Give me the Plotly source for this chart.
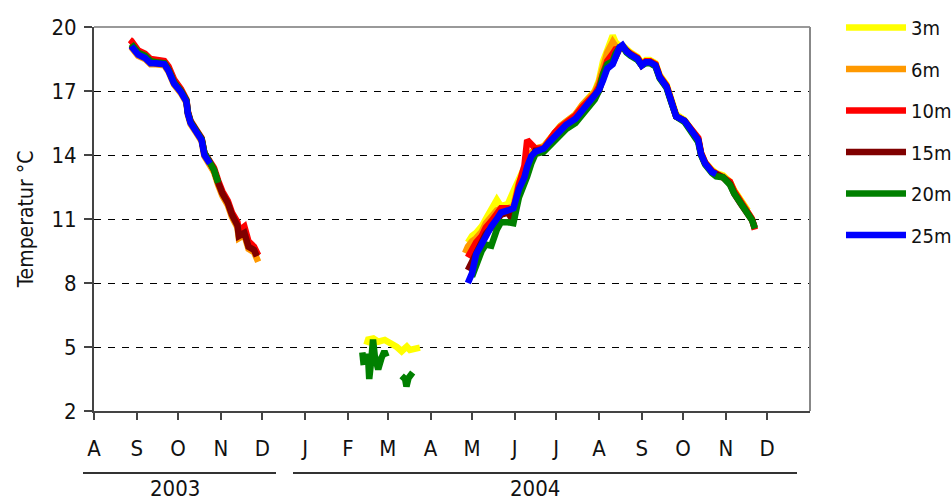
import plotly.graph_objects as go

# ---------------- data ----------------
depths = ["3m", "6m", "10m", "15m", "20m", "25m"]
colors = ["#FFFF00", "#FF9900", "#FF0000", "#800000", "#008000", "#0000FF"]

tick_dates = ["2003-08-01", "2003-09-01", "2003-10-01", "2003-11-01", "2003-12-01",
              "2004-01-01", "2004-02-01", "2004-03-01", "2004-04-01", "2004-05-01",
              "2004-06-01", "2004-07-01", "2004-08-01", "2004-09-01", "2004-10-01",
              "2004-11-01", "2004-12-01"]
tick_labels = ["A", "S", "O", "N", "D", "J", "F", "M", "A", "M", "J", "J", "A", "S", "O", "N", "D"]
year_labels = ["2003", "2004"]
y_ticks = [2, 5, 8, 11, 14, 17, 20]

# autumn 2003
dates_2003 = ["2003-08-27", "2003-08-28", "2003-09-02", "2003-09-07", "2003-09-11", "2003-09-15",
              "2003-09-21", "2003-09-24", "2003-09-28", "2003-10-03", "2003-10-07", "2003-10-08",
              "2003-10-10", "2003-10-14", "2003-10-18", "2003-10-20", "2003-10-24", "2003-10-27",
              "2003-10-30", "2003-11-02", "2003-11-06", "2003-11-09", "2003-11-13", "2003-11-14",
              "2003-11-18", "2003-11-19", "2003-11-21", "2003-11-25", "2003-11-27", "2003-11-28"]
t6_2003 = [None, 19.05, 18.65, 18.5, 18.25, 18.25, 18.2, 17.9, 17.3, 16.9, 16.45, 15.9, 15.45, 15.05,
           14.65, 13.95, 13.55, 13.2, 12.6, 12.1, 11.65, 11.1, 10.6, 10.1, 10.25, 10.0, 9.6, 9.45, 9.15, 9.0]
t10_2003 = [19.4, 19.35, 18.9, 18.75, 18.5, 18.45, 18.4, 18.15, 17.55, 17.1, 16.6, 16.05, 15.6, 15.2,
            14.8, 14.1, 13.75, 13.4, 12.8, 12.3, 11.85, 11.3, 10.85, 10.45, 10.65, 10.3, 9.95, 9.7, 9.45, 9.3]
t15_2003 = [None, 19.15, 18.75, 18.6, 18.35, 18.3, 18.28, 18.0, 17.4, 17.0, 16.55, 16.0, 15.55, 15.15,
            14.75, 14.1, 13.65, 13.3, 12.7, 12.2, 11.75, 11.2, 10.7, 10.2, 10.35, 10.1, 9.7, 9.55, 9.25, None]
t20_2003 = [None, 19.2, 18.8, 18.65, 18.4, 18.35, 18.3, 18.0, 17.4, 17.0, 16.55, 16.0, 15.55, 15.15,
            14.75, 14.1, 13.7, 13.3, 12.7, None, None, None, None, None, None, None, None, None, None, None]
t25_2003 = [None, 19.1, 18.7, 18.55, 18.3, 18.3, 18.25, 17.95, 17.35, 16.95, 16.5, 15.95, 15.5, 15.1,
            14.7, 14.0, 13.6, None, None, None, None, None, None, None, None, None, None, None, None, None]

# late winter 2004
dates_winter_3m = ["2004-02-14 12:00", "2004-02-15 18:00", "2004-02-19 12:00", "2004-02-23 00:00",
                   "2004-02-27 18:00", "2004-03-03 18:00", "2004-03-07 12:00", "2004-03-11 00:00",
                   "2004-03-14 18:00", "2004-03-17 00:00", "2004-03-20 18:00", "2004-03-24 06:00"]
t3_winter = [5.1, 5.35, 5.4, 5.25, 5.33, 5.17, 5.0, 4.8, 5.02, 4.86, 4.94, 4.97]
dates_winter_20m = ["2004-02-11 12:00", "2004-02-12 12:00", "2004-02-13 12:00", "2004-02-15 12:00",
                    "2004-02-16 12:00", "2004-02-18 00:00", "2004-02-19 06:00", "2004-02-20 12:00",
                    "2004-02-21 18:00", "2004-02-23 00:00", "2004-02-25 12:00", "2004-02-27 12:00",
                    "2004-02-29 00:00", "2004-03-05 00:00", "2004-03-11 00:00", "2004-03-13 12:00",
                    "2004-03-14 12:00", "2004-03-16 00:00", "2004-03-19 00:00"]
t20_winter = [4.75, 4.15, None, 4.7, 3.5, 4.4, 5.35, 4.6, 4.2, 3.95, 4.5, 4.8, 4.55, None,
              3.65, 3.5, 3.15, 3.55, 3.8]

# summer / autumn 2004
dates_2004 = ["2004-04-26", "2004-04-28", "2004-05-01", "2004-05-04", "2004-05-08", "2004-05-11",
              "2004-05-15", "2004-05-19", "2004-05-22", "2004-05-27", "2004-05-31", "2004-06-04",
              "2004-06-08", "2004-06-10", "2004-06-13", "2004-06-16", "2004-06-22", "2004-06-26",
              "2004-06-30", "2004-07-04", "2004-07-08", "2004-07-15", "2004-07-20", "2004-07-25",
              "2004-07-29", "2004-08-01", "2004-08-04", "2004-08-07", "2004-08-11", "2004-08-13",
              "2004-08-16", "2004-08-18", "2004-08-21", "2004-08-24", "2004-08-29", "2004-09-01",
              "2004-09-04", "2004-09-07", "2004-09-11", "2004-09-14", "2004-09-19", "2004-09-22",
              "2004-09-26", "2004-10-02", "2004-10-08", "2004-10-12", "2004-10-14", "2004-10-17",
              "2004-10-22", "2004-10-25", "2004-10-30", "2004-11-04", "2004-11-07", "2004-11-12",
              "2004-11-17", "2004-11-20", "2004-11-22"]
t3_2004 = [None, 9.9, 10.2, 10.35, 10.65, 11.0, 11.4, 11.9, 11.6, 11.7, 12.3, 12.8, 13.3, 13.7,
           14.1, 14.3, 14.4, 14.75, 15.1, 15.35, 15.55, 15.9, 16.35, 16.7, 17.0, 17.5, 18.4, 18.9,
           19.6, 19.3, 19.1, 19.15, 18.95, 18.8, 18.6, 18.3, 18.45, 18.45, 18.3, 17.75, 17.3, 16.65,
           15.9, 15.65, 15.15, 14.75, 14.1, 13.65, 13.3, 13.15, 13.05, 12.75, 12.35, 11.8, 11.4, None, None]
t6_2004 = [9.4, 9.7, 9.95, 10.1, 10.4, 10.8, 11.1, 11.4, 11.5, 11.5, 11.6, 12.7, 13.2, 13.7,
           14.1, 14.3, 14.4, 14.75, 15.1, 15.35, 15.55, 15.9, 16.35, 16.7, 16.95, 17.4, 18.2, 18.8,
           19.3, 19.1, 19.0, 19.1, 18.9, 18.75, 18.55, 18.25, 18.4, 18.4, 18.25, 17.7, 17.25, 16.6,
           15.85, 15.6, 15.1, 14.75, 14.05, 13.6, 13.25, 13.1, 13.0, 12.7, 12.3, 11.75, 11.35, 11.0, None]
t10_2004 = [None, 9.2, 9.6, 9.9, 10.2, 10.6, 10.9, 11.3, 11.5, 11.5, 11.4, 12.6, 13.5, 14.7,
            14.5, 14.3, 14.3, 14.7, 15.05, 15.3, 15.5, 15.85, 16.25, 16.6, 16.85, 17.2, 17.9, 18.4,
            18.75, 18.95, 19.0, 19.1, 18.85, 18.75, 18.55, 18.25, 18.4, 18.4, 18.25, 17.7, 17.25, 16.65,
            15.8, 15.6, 15.15, 14.8, 14.1, 13.65, 13.25, 13.15, 13.0, 12.75, 12.3, 11.8, 11.35, 11.0, 10.5]
t15_2004 = [None, 8.6, 9.0, 9.5, 9.9, 10.3, 10.6, 11.0, 11.2, 11.3, 10.9, 12.3, 12.9, 13.4,
            13.9, 14.2, 14.2, 14.5, 14.8, 15.1, 15.35, 15.65, 16.05, 16.45, 16.7, 17.0, 17.6, 18.1,
            18.3, 18.65, 19.0, 19.1, 18.85, 18.7, 18.5, 18.2, 18.35, 18.35, 18.2, 17.65, 17.2, 16.6,
            15.8, 15.6, 15.1, 14.7, 14.05, 13.6, 13.2, 13.1, 12.95, 12.65, 12.2, 11.7, 11.3, 10.95, 10.6]
t20_2004 = [None, None, 8.3, 8.85, 9.5, 9.8, 9.75, 10.5, 10.85, 10.85, 10.8, 12.0, 12.6, 13.0,
            13.6, 14.05, 14.15, 14.4, 14.7, 14.95, 15.2, 15.5, 15.9, 16.3, 16.6, 17.0, 17.8, 18.25,
            18.4, 18.75, 19.05, 19.1, 18.8, 18.65, 18.45, 18.2, 18.3, 18.3, 18.15, 17.6, 17.15, 16.55,
            15.8, 15.55, 15.05, 14.6, 14.0, 13.55, 13.15, 13.0, 12.95, 12.6, 12.2, 11.7, 11.25, 10.95, 10.55]
t25_2004 = [None, 8.0, 8.45, 9.35, 9.85, 10.3, 10.65, 11.0, 11.3, 11.4, 11.5, 12.4, 12.95, 13.45,
            13.95, 14.15, 14.3, 14.6, 14.9, 15.15, 15.4, 15.7, 16.1, 16.5, 16.75, 17.05, 17.5, 18.05,
            18.25, 18.6, 19.05, 19.15, 18.85, 18.7, 18.5, 18.2, 18.35, 18.35, 18.2, 17.65, 17.2, 16.6,
            15.8, 15.6, 15.1, 14.7, 14.05, 13.6, 13.2, 13.1, None, None, None, None, None, None, None]

# ---------------- assemble ----------------
def join(parts):
    xs, ys = [], []
    for i, (dx, vy) in enumerate(parts):
        if i > 0:
            xs.append(dx[0]); ys.append(None)
        xs += list(dx); ys += list(vy)
    return xs, ys

series_parts = {
    "3m": [(dates_winter_3m, t3_winter), (dates_2004, t3_2004)],
    "6m": [(dates_2003, t6_2003), (dates_2004, t6_2004)],
    "10m": [(dates_2003, t10_2003), (dates_2004, t10_2004)],
    "15m": [(dates_2003, t15_2003), (dates_2004, t15_2004)],
    "20m": [(dates_2003, t20_2003), (dates_winter_20m, t20_winter), (dates_2004, t20_2004)],
    "25m": [(dates_2003, t25_2003), (dates_2004, t25_2004)],
}

FONT = "Liberation Sans Narrow, Arial Narrow, DejaVu Sans Condensed, sans-serif"
TXT = "#111111"

fig = go.Figure()
for name, col in zip(depths, colors):
    xs, ys = join(series_parts[name])
    fig.add_trace(go.Scatter(x=xs, y=ys, mode="lines", name=name, legendgroup=name,
                             connectgaps=False,
                             line=dict(color=col, width=6.5)))

L, R, T, B = 94, 142, 27, 89
W, H = 952, 500
pw, ph = W - L - R, H - T - B

def px_x(p):
    return (p - L) / pw

def px_y(p):
    return (H - B - p) / ph

fig.update_layout(
    width=W, height=H,
    margin=dict(l=L, r=R, t=T, b=B, autoexpand=False),
    plot_bgcolor="white", paper_bgcolor="white",
    font=dict(family=FONT, size=22, color=TXT),
    showlegend=True,
    legend=dict(x=px_x(841), y=1.0 + 19 / ph, xanchor="left", yanchor="top",
                font=dict(family=FONT, size=20, color=TXT),
                itemwidth=60, tracegroupgap=12.5, bgcolor="rgba(0,0,0,0)"),
    xaxis=dict(type="date", range=["2003-08-01", "2005-01-01"],
               tickmode="array", tickvals=tick_dates, ticktext=tick_labels,
               showgrid=False, zeroline=False,
               showline=True, linecolor="#444444", linewidth=2,
               ticks="outside", ticklen=7, tickcolor="#444444", tickwidth=1.5,
               ticklabelstandoff=10,
               tickfont=dict(family=FONT, size=22, color=TXT)),
    yaxis=dict(range=[2, 20], tickmode="array", tickvals=y_ticks,
               showgrid=True, gridcolor="#000000", gridwidth=1, griddash="7px,7px",
               zeroline=False,
               showline=True, linecolor="#444444", linewidth=2,
               ticks="outside", ticklen=8, tickcolor="#444444", tickwidth=1.5,
               ticklabelstandoff=3,
               tickfont=dict(family=FONT, size=22, color=TXT),
               title=dict(text="Temperatur °C", standoff=12,
                          font=dict(family=FONT, size=21, color=TXT))),
    shapes=[
        dict(type="line", xref="paper", yref="paper", x0=0, x1=1, y0=1, y1=1,
             line=dict(color="#999999", width=2), layer="above"),
        dict(type="line", xref="paper", yref="paper", x0=1, x1=1, y0=0, y1=1,
             line=dict(color="#888888", width=2), layer="above"),
        dict(type="line", xref="paper", yref="paper", x0=px_x(83), x1=px_x(276),
             y0=px_y(473), y1=px_y(473), line=dict(color="#333333", width=2)),
        dict(type="line", xref="paper", yref="paper", x0=px_x(293), x1=px_x(797),
             y0=px_y(473), y1=px_y(473), line=dict(color="#333333", width=2)),
    ],
    annotations=[
        dict(text=year_labels[0], xref="paper", yref="paper", x=px_x(175), y=px_y(488),
             showarrow=False, xanchor="center", yanchor="middle",
             font=dict(family=FONT, size=22, color=TXT)),
        dict(text=year_labels[1], xref="paper", yref="paper", x=px_x(535), y=px_y(488),
             showarrow=False, xanchor="center", yanchor="middle",
             font=dict(family=FONT, size=22, color=TXT)),
    ],
)

fig.write_html("out.html", config={"displayModeBar": False},
               post_script="document.body.style.margin='0';")
